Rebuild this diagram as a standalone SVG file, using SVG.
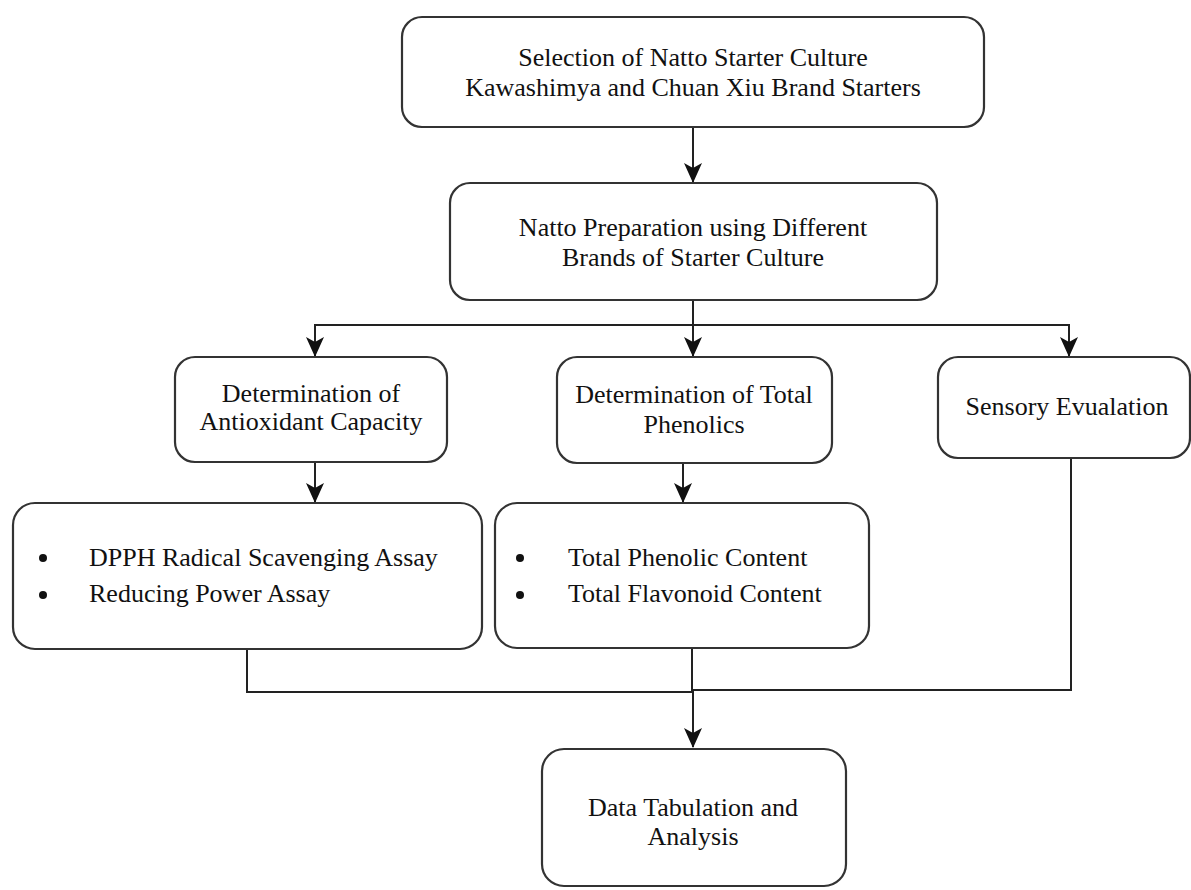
<svg xmlns="http://www.w3.org/2000/svg" width="1191" height="890" viewBox="0 0 1191 890">
<style>
.box{fill:#fff;stroke:#333;stroke-width:2.2}
.t{font-family:"Liberation Serif","Times New Roman",serif;font-size:26px;fill:#111}
.c{text-anchor:middle}
.ln{fill:none;stroke:#222;stroke-width:2}
.b{fill:#111}
</style>
<defs>
<marker id="arr" markerWidth="20" markerHeight="18" viewBox="0 0 20 18" refX="19" refY="9" orient="auto" markerUnits="userSpaceOnUse">
<path d="M0,0 L20,9 L0,18 L5,9 Z" fill="#111"/>
</marker>
</defs>
<rect width="1191" height="890" fill="#fff"/>
<g id="connectors">
<line class="ln" x1="693" y1="127" x2="693" y2="182" marker-end="url(#arr)"/>
<line class="ln" x1="693" y1="300" x2="693" y2="356" marker-end="url(#arr)"/>
<polyline class="ln" points="693,325 315,325 315,356" marker-end="url(#arr)"/>
<polyline class="ln" points="693,325 1069,325 1069,356" marker-end="url(#arr)"/>
<line class="ln" x1="315" y1="462" x2="315" y2="502" marker-end="url(#arr)"/>
<line class="ln" x1="683" y1="463" x2="683" y2="502" marker-end="url(#arr)"/>
<polyline class="ln" points="247,649 247,692 693,692"/>
<line class="ln" x1="692" y1="648" x2="692" y2="692"/>
<polyline class="ln" points="1071,458 1071,690 693,690"/>
<line class="ln" x1="693" y1="690" x2="693" y2="747" stroke-width="3" marker-end="url(#arr)"/>
</g>
<g id="n1"><rect class="box" x="402" y="17" width="582" height="110" rx="20"/>
<text class="t c" x="693" y="66">Selection of Natto Starter Culture</text>
<text class="t c" x="693" y="96">Kawashimya and Chuan Xiu Brand Starters</text></g>
<g id="n2"><rect class="box" x="450" y="183" width="487" height="117" rx="20"/>
<text class="t c" x="693" y="236">Natto Preparation using Different</text>
<text class="t c" x="693" y="266">Brands of Starter Culture</text></g>
<g id="n3"><rect class="box" x="175" y="357" width="272" height="105" rx="20"/>
<text class="t c" x="311" y="402">Determination of</text>
<text class="t c" x="311" y="430">Antioxidant Capacity</text></g>
<g id="n4"><rect class="box" x="557" y="357" width="275" height="106" rx="20"/>
<text class="t c" x="694" y="403">Determination of Total</text>
<text class="t c" x="694" y="433">Phenolics</text></g>
<g id="n5"><rect class="box" x="938" y="357" width="252" height="101" rx="20"/>
<text class="t c" x="1067" y="415">Sensory Evualation</text></g>
<g id="n6"><rect class="box" x="13" y="503" width="469" height="146" rx="22"/>
<circle class="b" cx="43" cy="558" r="4"/><circle class="b" cx="43" cy="595" r="4"/>
<text class="t" x="89" y="566">DPPH Radical Scavenging Assay</text>
<text class="t" x="89" y="602">Reducing Power Assay</text></g>
<g id="n7"><rect class="box" x="495" y="503" width="374" height="145" rx="22"/>
<circle class="b" cx="520" cy="558" r="4"/><circle class="b" cx="520" cy="595" r="4"/>
<text class="t" x="568" y="566">Total Phenolic Content</text>
<text class="t" x="568" y="602">Total Flavonoid Content</text></g>
<g id="n8"><rect class="box" x="542" y="749" width="304" height="137" rx="22"/>
<text class="t c" x="693" y="816">Data Tabulation and</text>
<text class="t c" x="693" y="845">Analysis</text></g>
</svg>
